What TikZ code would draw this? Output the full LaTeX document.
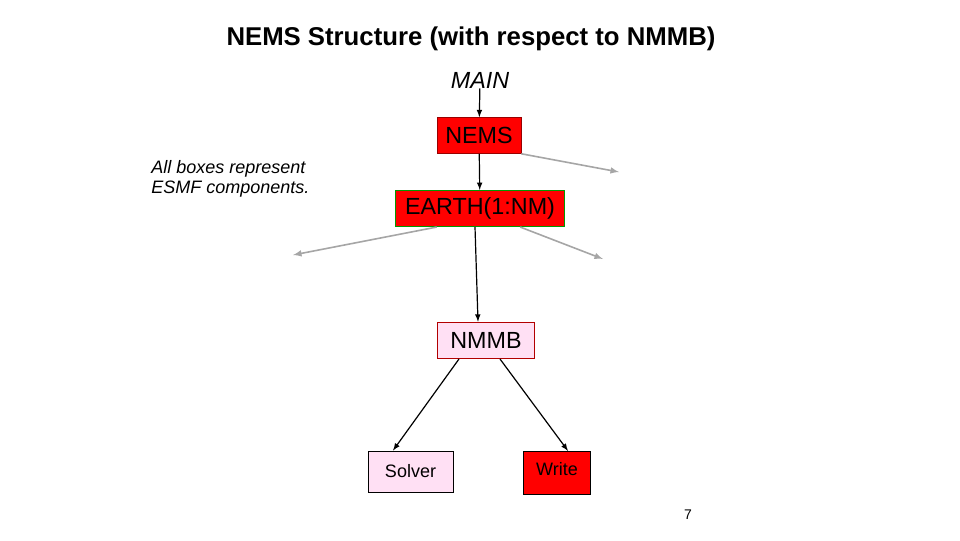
\documentclass[tikz,border=0pt]{standalone}
\usepackage{fontspec}
\setmainfont{Liberation Sans}
\definecolor{pk}{HTML}{FFE0F4}
\begin{document}
\begin{tikzpicture}[x=0.75pt,y=-0.75pt,
  box/.style={draw,minimum height=27pt,inner sep=0pt,font=\fontsize{17.5}{20}\selectfont},
  blk/.style={-latex,line width=0.9pt},
  gry/.style={-latex,line width=1.2pt,draw=gray!70},
  lbl/.style={inner sep=0pt}]
\useasboundingbox (0,0) rectangle (960,540);
\node[lbl,font=\bfseries\fontsize{19.3}{22}\selectfont] (title) at (471,39) {NEMS Structure (with respect to NMMB)};
\node[lbl,font=\itshape\fontsize{17.5}{20}\selectfont] (main) at (480,80) {MAIN};
\node[box,fill=red,draw=red!60!black,minimum width=63pt] (nems) at (479,135.5) {NEMS};
\node[box,fill=red,draw=green!60!black,line width=0.8pt,minimum width=127pt] (earth) at (480,208.5) {EARTH(1:NM)};
\node[box,fill=pk,draw=red!70!black,minimum width=73pt] (nmmb) at (486,340) {NMMB};
\node[draw,fill=pk,minimum width=64pt,minimum height=31pt,inner sep=0pt,font=\fontsize{13.5}{16}\selectfont] (solver) at (410.5,471.5) {Solver};
\node[draw,fill=red,minimum width=50pt,minimum height=32pt,inner sep=0pt,font=\fontsize{13.5}{16}\selectfont,text depth=6pt] (write) at (557,472.5) {Write};
\node[lbl,font=\fontsize{10.5}{12}\selectfont] (pg) at (688,515) {7};
\node[lbl,align=left,font=\itshape\fontsize{13.5}{15}\selectfont,anchor=north west] (note) at (151,160) {All boxes represent\\ESMF components.};
\coordinate (g1) at (619,172);
\coordinate (g2) at (293,255);
\coordinate (g3) at (603,259);
\draw[blk] (main) -- (nems);
\draw[blk] (nems) -- (earth);
\draw[gry] (nems.south east) -- (g1);
\draw[gry] (earth.south west)++(42,0) -- (g2);
\draw[gry] (earth.south east)++(-45,0) -- (g3);
\draw[blk] (475,227) -- (nmmb.north -| 478,0);
\draw[blk] (459,359) -- (solver.north -| 393,0);
\draw[blk] (500,359) -- (write.north -| 568,0);
\end{tikzpicture}
\end{document}
